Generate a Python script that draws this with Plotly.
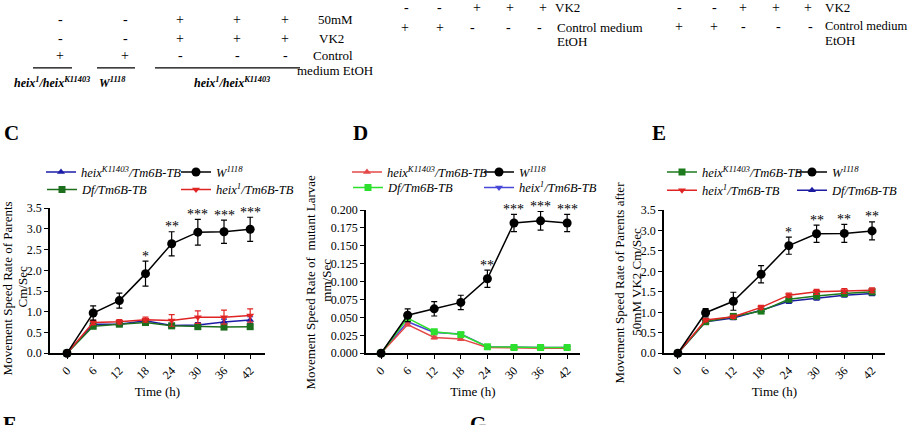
import plotly.graph_objects as go

W, H = 920, 425
SERIF = "Liberation Serif, Times New Roman, DejaVu Serif, serif"


def px(x):
    return x / W


def py(y):
    return 1 - y / H


time = [0, 6, 12, 18, 24, 30, 36, 42]
time_labels = ["0", "6", "12", "18", "24", "30", "36", "42"]

# ---------------- Panel C ----------------
c_w1118 = [0, 0.97, 1.27, 1.92, 2.64, 2.92, 2.93, 2.99]
c_w1118_err = [0, 0.17, 0.18, 0.30, 0.29, 0.31, 0.28, 0.29]
c_heixK = [0, 0.70, 0.70, 0.78, 0.67, 0.68, 0.75, 0.80]
c_heixK_err = [0, 0.04, 0.04, 0.05, 0.05, 0.06, 0.07, 0.08]
c_df = [0, 0.65, 0.70, 0.74, 0.66, 0.64, 0.63, 0.64]
c_df_err = [0, 0.04, 0.04, 0.04, 0.05, 0.05, 0.05, 0.05]
c_heix1 = [0, 0.74, 0.76, 0.81, 0.79, 0.87, 0.87, 0.91]
c_heix1_err = [0, 0.05, 0.05, 0.06, 0.14, 0.15, 0.17, 0.16]
c_stars = ["", "", "", "*", "**", "***", "***", "***"]

# ---------------- Panel D ----------------
d_w1118 = [0, 0.053, 0.062, 0.071, 0.104, 0.182, 0.185, 0.182]
d_w1118_err = [0, 0.009, 0.010, 0.010, 0.012, 0.012, 0.013, 0.012]
d_heixK = [0, 0.040, 0.022, 0.020, 0.008, 0.007, 0.007, 0.007]
d_heixK_err = [0, 0.002, 0.002, 0.002, 0.001, 0.001, 0.001, 0.001]
d_df = [0, 0.049, 0.030, 0.026, 0.009, 0.008, 0.008, 0.008]
d_df_err = [0, 0.002, 0.002, 0.002, 0.001, 0.001, 0.001, 0.001]
d_heix1 = [0, 0.044, 0.029, 0.027, 0.009, 0.008, 0.008, 0.008]
d_heix1_err = [0, 0.002, 0.002, 0.002, 0.001, 0.001, 0.001, 0.001]
d_stars = ["", "", "", "", "**", "***", "***", "***"]

# ---------------- Panel E ----------------
e_w1118 = [0, 0.99, 1.27, 1.93, 2.63, 2.92, 2.93, 2.99]
e_w1118_err = [0, 0.10, 0.22, 0.21, 0.21, 0.21, 0.22, 0.22]
e_heixK = [0, 0.77, 0.90, 1.03, 1.32, 1.40, 1.46, 1.50]
e_heixK_err = [0, 0.04, 0.04, 0.05, 0.05, 0.05, 0.05, 0.05]
e_heix1 = [0, 0.81, 0.89, 1.12, 1.42, 1.50, 1.52, 1.54]
e_heix1_err = [0, 0.04, 0.04, 0.05, 0.05, 0.06, 0.06, 0.06]
e_df = [0, 0.77, 0.86, 1.05, 1.27, 1.35, 1.42, 1.46]
e_df_err = [0, 0.04, 0.04, 0.04, 0.05, 0.05, 0.05, 0.05]
e_stars = ["", "", "", "", "*", "**", "**", "**"]

NAME_K = "<i>heix<sup>K11403</sup>/Tm6B-TB</i>"
NAME_W = "<i>W<sup>1118</sup></i>"
NAME_DF = "<i>Df/Tm6B-TB</i>"
NAME_1 = "<i>heix<sup>1</sup>/Tm6B-TB</i>"

fig = go.Figure()

series = [
    ("", c_heixK, c_heixK_err, NAME_K, "#1c1ca8", "triangle-up", 7, (82, 171)),
    ("", c_df, c_df_err, NAME_DF, "#1d6e1d", "square", 7, (83, 189)),
    ("", c_heix1, c_heix1_err, NAME_1, "#e02424", "triangle-down", 7, (217, 189)),
    ("", c_w1118, c_w1118_err, NAME_W, "#000000", "circle", 9, (217, 171)),
    ("2", d_heix1, d_heix1_err, NAME_1, "#4848d8", "triangle-down", 7, (520, 187)),
    ("2", d_heixK, d_heixK_err, NAME_K, "#e44848", "triangle-up", 7, (388, 171)),
    ("2", d_df, d_df_err, NAME_DF, "#2ee02e", "square", 7, (389, 187)),
    ("2", d_w1118, d_w1118_err, NAME_W, "#000000", "circle", 9, (520, 171)),
    ("3", e_df, e_df_err, NAME_DF, "#1c1ca0", "triangle-up", 7, (833, 190)),
    ("3", e_heixK, e_heixK_err, NAME_K, "#1d7a1d", "square", 7, (703, 171)),
    ("3", e_heix1, e_heix1_err, NAME_1, "#e02424", "triangle-down", 7, (703, 190)),
    ("3", e_w1118, e_w1118_err, NAME_W, "#000000", "circle", 9, (833, 171)),
]

legend_layouts = {}
for i, (ax, vals, errs, name, color, sym, size, (lx, ly)) in enumerate(series):
    key = "legend" if i == 0 else f"legend{i + 1}"
    fig.add_trace(go.Scatter(
        x=time, y=vals, name=name, mode="lines+markers",
        xaxis="x" + ax, yaxis="y" + ax,
        line=dict(color=color, width=1.5),
        marker=dict(color=color, symbol=sym, size=size),
        error_y=dict(type="data", array=errs, color=color, thickness=1.2, width=3),
        cliponaxis=False, legend=key, showlegend=True,
    ))
    legend_layouts[key] = dict(
        x=px(lx - 41), y=py(ly), xanchor="left", yanchor="middle",
        bgcolor="rgba(0,0,0,0)", borderwidth=0,
        font=dict(family=SERIF, size=12.5, color="black"),
        itemclick=False, itemdoubleclick=False,
    )

fig.update_layout(**legend_layouts)

axis_common = dict(
    showline=True, linecolor="black", linewidth=1.5, ticks="outside",
    ticklen=4, tickwidth=1.3, tickcolor="black", showgrid=False, zeroline=False,
    tickfont=dict(family=SERIF, size=12, color="black"),
)

xcommon = dict(axis_common, tickvals=time, ticktext=time_labels, tickangle=-45,
               title=dict(text="Time (h)", font=dict(family=SERIF, size=13, color="black"),
                          standoff=6))

fig.update_layout(
    width=W, height=H,
    margin=dict(l=0, r=0, t=0, b=0),
    paper_bgcolor="white", plot_bgcolor="white",
    font=dict(family=SERIF, color="black"),
    xaxis=dict(xcommon, domain=[px(50), px(265)], range=[-3.9, 45.4], anchor="y"),
    yaxis=dict(axis_common, domain=[py(358), py(208)], range=[0, 3.5],
               tickvals=[0, 0.5, 1.0, 1.5, 2.0, 2.5, 3.0, 3.5], tickformat=".1f", anchor="x"),
    xaxis2=dict(xcommon, domain=[px(366), px(580)], range=[-3.4, 44.9], anchor="y2"),
    yaxis2=dict(axis_common, domain=[py(358), py(210)], range=[0, 0.2],
                tickvals=[0, 0.025, 0.05, 0.075, 0.1, 0.125, 0.15, 0.175, 0.2],
                tickformat=".3f", anchor="x2"),
    xaxis3=dict(xcommon, domain=[px(664), px(885)], range=[-3.0, 44.8], anchor="y3"),
    yaxis3=dict(axis_common, domain=[py(358), py(210)], range=[0, 3.5],
                tickvals=[0, 0.5, 1.0, 1.5, 2.0, 2.5, 3.0, 3.5], tickformat=".1f", anchor="x3"),
)

ann = []

for ax, vals, errs, stars in [("", c_w1118, c_w1118_err, c_stars),
                              ("2", d_w1118, d_w1118_err, d_stars),
                              ("3", e_w1118, e_w1118_err, e_stars)]:
    for t, v, e, s in zip(time, vals, errs, stars):
        if s:
            ann.append(dict(x=t, y=v + e, xref="x" + ax, yref="y" + ax, text=s,
                            showarrow=False, yanchor="middle", yshift=5,
                            font=dict(family=SERIF, size=14, color="black")))


def txt(x, y, s, size=13, anchor="center", angle=0):
    ann.append(dict(x=px(x), y=py(y), xref="paper", yref="paper", text=s,
                    showarrow=False, xanchor=anchor, yanchor="middle", textangle=angle,
                    font=dict(family=SERIF, size=size, color="black")))


# y-axis titles (two lines each)
txt(7, 291, "Movement Speed Rate of Parents", angle=-90)
txt(22, 290, "Cm/Sec", angle=-90)
txt(311, 285, "Movement Speed Rate of  mutant Larvae", angle=-90)
txt(327, 283, "mm/Sec", angle=-90)
txt(620, 285, "Movement Speed Rate of Parents after", angle=-90)
txt(637, 284, "50mM VK2 Cm/Sec", angle=-90)

# panel letters
txt(11, 130, "<b>C</b>", size=21)
txt(360, 130, "<b>D</b>", size=21)
txt(659, 130, "<b>E</b>", size=21)
txt(9, 431, "<b>F</b>", size=21)
txt(478, 431, "<b>G</b>", size=21)

# top-left treatment table
row_signs_left = [["-", "-", "+", "+", "+"], ["-", "-", "+", "+", "+"], ["+", "+", "-", "-", "-"]]
cols_left = [60, 125, 180, 237, 285]
rows_left = [13, 33, 50]
for ry, signs in zip(rows_left, row_signs_left):
    for cx, s in zip(cols_left, signs):
        txt(cx, ry, s, size=14)
txt(335, 13, "50mM", size=13)
txt(331, 33, "VK2", size=13)
txt(333, 50, "Control", size=13)
txt(335, 66, "medium EtOH", size=13)
txt(52, 78, "<b><i>heix<sup>1</sup>/heix<sup>K11403</sup></i></b>", size=12)
txt(112, 78, "<b><i>W<sup>1118</sup></i></b>", size=12)
txt(232, 78, "<b><i>heix<sup>1</sup>/heix<sup>K11403</sup></i></b>", size=12)

# top-middle table
for cx, s in zip([406, 439, 477, 510, 543], ["-", "-", "+", "+", "+"]):
    txt(cx, 1, s, size=14)
for cx, s in zip([405, 440, 472, 508, 539], ["+", "+", "-", "-", "-"]):
    txt(cx, 21, s, size=14)
txt(553, 1, "VK2", size=13, anchor="left")
txt(555, 21, "Control medium", size=13, anchor="left")
txt(555, 36, "EtOH", size=13, anchor="left")

# top-right table
for cx, s in zip([679, 714, 743, 776, 808], ["-", "-", "+", "+", "+"]):
    txt(cx, 0, s, size=14)
for cx, s in zip([679, 714, 743, 778, 810], ["+", "+", "-", "-", "-"]):
    txt(cx, 20, s, size=14)
txt(823, 0, "VK2", size=13, anchor="left")
txt(823, 20, "Control medium", size=12.5, anchor="left")
txt(823, 35, "EtOH", size=13, anchor="left")

fig.update_layout(annotations=ann)

shapes = []
for x0, x1 in [(33, 72), (97, 135), (155, 300)]:
    shapes.append(dict(type="line", xref="paper", yref="paper", x0=px(x0), x1=px(x1),
                       y0=py(63), y1=py(63), line=dict(color="black", width=1.3)))
fig.update_layout(shapes=shapes)

# remove the default 8px page margin so the figure fills the 920x425 window
fig.write_html("out.html", config={"displayModeBar": False},
               post_script="document.body.style.margin = '0px';")
